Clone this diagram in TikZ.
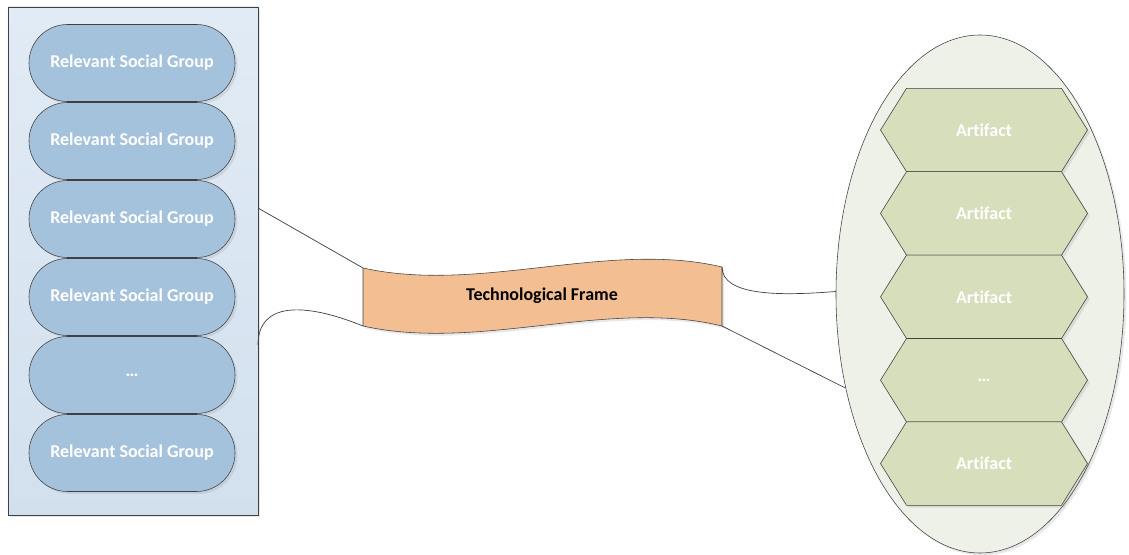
\documentclass[tikz,border=0pt]{standalone}
\usepackage{fontspec}
\setmainfont{Carlito}[Ligatures=NoCommon]
\usetikzlibrary{shapes.geometric,shadows}
\definecolor{boxtop}{HTML}{E1EBF5}
\definecolor{boxbot}{HTML}{D2E0EE}
\definecolor{groupfill}{HTML}{A5C2DD}
\definecolor{framefill}{HTML}{F2BE92}
\definecolor{ovalfill}{HTML}{EEF1E8}
\definecolor{hexfill}{HTML}{D7DEBB}
\definecolor{edge}{HTML}{404040}
\begin{document}
\begin{tikzpicture}[
    label font/.style={font=\fontsize{12.8}{15}\selectfont\bfseries},
    shade/.style={drop shadow={opacity=.18, shadow xshift=.06cm, shadow yshift=-.06cm}},
    grp/.style={draw=edge, fill=groupfill, rounded corners=0.96cm, minimum width=5.15cm,
        minimum height=1.925cm, text=white, label font, shade},
    hexa/.style={draw=edge, fill=hexfill, shade},
    tape/.style={draw=edge, fill=framefill, shade},
    conn/.style={draw=edge, line width=.5pt}
]
    \useasboundingbox (0,0) rectangle (28.225,13.85);
    % left box with the groups
    \node[draw=edge, top color=boxtop, bottom color=boxbot, minimum width=6.25cm,
        minimum height=12.7cm, inner sep=0pt, shade] (groups) at (3.325,7.325) {};
    \foreach \y/\t [count=\i] in {12.275/Relevant Social Group, 10.325/Relevant Social Group,
        8.375/Relevant Social Group, 6.425/Relevant Social Group, 4.475/{\ldots},
        2.525/Relevant Social Group}
        \node[grp] (g\i) at (3.3,\y) {\t};
    % oval with the artifacts
    \node[ellipse, draw=edge, fill=ovalfill, minimum width=7.2cm, minimum height=12.95cm,
        shade] (ell) at (24.5,6.5) {};
    \foreach \y/\t [count=\i] in {10.6/Artifact, 8.515/Artifact, 6.43/Artifact,
        4.345/{\ldots}, 2.26/Artifact} {
        \draw[hexa] (24.6-2.5875,\y) -- ++(0.65,1.0425) -- ++(3.875,0) -- ++(0.65,-1.0425)
            -- ++(-0.65,-1.0425) -- ++(-3.875,0) -- cycle;
        \node[text=white, label font] (a\i) at (24.6,\y) {\t};
    }
    % the frame in between
    \coordinate (tl) at (9.075,7.15);
    \coordinate (tr) at (18.05,7.175);
    \coordinate (br) at (18.05,5.7);
    \coordinate (bl) at (9.075,5.7);
    \draw[tape] (tl) .. controls (12,6.5) and (15.2,7.85) .. (tr) -- (br)
        .. controls (15.2,6.4) and (12,5.05) .. (bl) -- cycle;
    \node[label font] (frame) at (13.55,6.45) {Technological Frame};
    % connectors
    \coordinate (ga) at (6.45,8.65);
    \coordinate (gb) at (6.45,5.225);
    \draw[conn] (ga) -- (tl);
    \draw[conn] (gb) .. controls (6.45,6.3) and (7.6,6.3) .. (bl);
    \draw[conn] (tr) .. controls (18.05,6.45) and (19.5,6.45) .. (ell.179);
    \draw[conn] (br) -- (ell.215);
\end{tikzpicture}
\end{document}
